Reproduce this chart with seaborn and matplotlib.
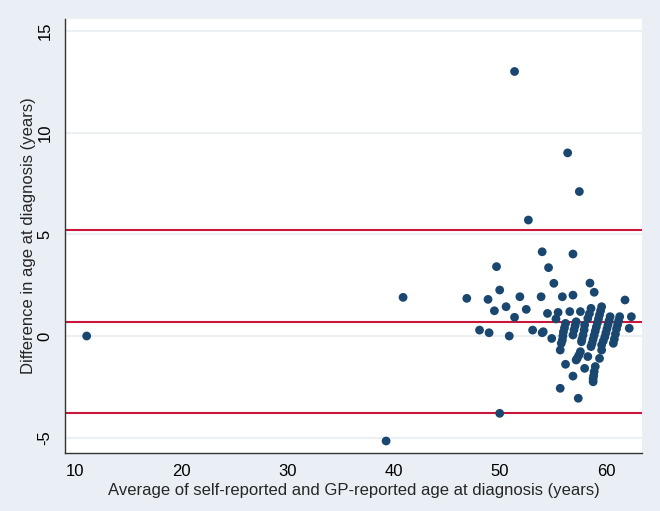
import matplotlib
matplotlib.use("Agg")
import matplotlib.pyplot as plt
import seaborn as sns
import pandas as pd

# average of the two reported ages (x) and their difference (y)
avg_age = [
    11.1, 39.3, 40.9, 51.4, 56.4, 57.5, 52.7, 50.0, 57.4,
    46.9, 49.7, 50.0, 48.9, 49.5, 50.6, 51.4, 51.9, 52.5, 48.1, 49.0, 50.9,
    53.1, 54.0, 54.9, 55.3, 54.0, 54.6, 55.1, 53.9, 54.5, 55.5, 55.9, 56.9,
    56.9, 56.6, 57.6, 58.9, 61.8, 62.4, 62.2, 54.1, 55.7, 56.2, 56.9, 55.7,
    58.3, 58.0, 59.6, 59.4, 58.5,
    59.6, 59.5, 59.4, 59.3, 59.2, 59.1, 59.0, 58.9, 58.8, 58.7, 58.6,
    60.4, 60.3, 60.2, 60.1, 60.0, 59.9, 59.75, 59.6,
    61.3, 61.2, 61.1, 61.0, 60.9, 60.8, 60.7,
    58.6, 58.45, 58.3,
    56.2, 56.1, 56.0, 55.95, 55.9, 55.8,
    57.2, 57.1, 57.0, 56.9,
    58.0, 57.95, 57.85, 57.75, 57.7,
    57.6, 57.45, 57.3, 57.2,
    59.0, 58.9, 58.85, 58.8, 58.8,
]
diff_age = [
    0.0, -5.16, 1.9, 13.0, 9.0, 7.1, 5.7, -3.8, -3.06,
    1.85, 3.41, 2.26, 1.8, 1.24, 1.44, 0.92, 1.93, 1.31, 0.29, 0.16, 0.0,
    0.29, 0.16, -0.12, 0.84, 4.14, 3.36, 2.59, 1.93, 1.11, 1.16, 1.93, 4.03,
    2.01, 1.2, 1.2, 2.15, 1.77, 0.95, 0.38, 0.21, -0.69, -1.39, -1.97, -2.57,
    -1.01, -1.59, -0.69, -1.1, 2.6,
    1.44, 1.24, 1.04, 0.84, 0.64, 0.44, 0.24, 0.04, -0.16, -0.36, -0.52,
    0.95, 0.75, 0.55, 0.35, 0.15, -0.05, -0.25, -0.44,
    0.95, 0.75, 0.55, 0.35, 0.1, -0.15, -0.36,
    1.36, 1.1, 0.87,
    0.62, 0.4, 0.2, 0.0, -0.2, -0.36,
    0.7, 0.5, 0.3, 0.05,
    0.54, 0.3, 0.05, -0.15, -0.28,
    -0.77, -0.95, -1.1, -1.18,
    -1.5, -1.75, -1.95, -2.1, -2.25,
]
# mean difference and limits of agreement
mean_diff = 0.71
upper_loa = 5.21
lower_loa = -3.79

x_ticks = [10, 20, 30, 40, 50, 60]
y_ticks = [-5, 0, 5, 10, 15]

df = pd.DataFrame({"avg": avg_age, "diff": diff_age})

sns.set_style("white")
plt.rcParams["font.family"] = ["Liberation Sans", "DejaVu Sans"]

bg = "#eaeff5"
fig = plt.figure(figsize=(6.6, 5.11), dpi=100, facecolor=bg)
ax = fig.add_axes([0.0985, 0.1135, 0.8742, 0.8493])
ax.set_facecolor("white")

for t in y_ticks:
    ax.axhline(t, color="#e8eef3", lw=1.2, zorder=0)

for v in [upper_loa, mean_diff, lower_loa]:
    ax.axhline(v, color="#c8173a", lw=1.5, zorder=1)

sns.scatterplot(data=df, x="avg", y="diff", ax=ax, color="#1a476f",
                s=40, edgecolor="none", zorder=3, legend=False)

ax.set_xlim(9.06, 63.4)
ax.set_ylim(-5.75, 15.58)
ax.set_xticks(x_ticks)
ax.set_yticks(y_ticks)
ax.set_yticklabels([str(t) for t in y_ticks], rotation=90, va="center")
ax.tick_params(axis="both", direction="out", length=5, width=1,
               color="#333333", labelsize=12, labelcolor="black")
ax.tick_params(axis="x", pad=3)
ax.tick_params(axis="y", pad=4)

for side in ["top", "right"]:
    ax.spines[side].set_visible(False)
for side in ["left", "bottom"]:
    ax.spines[side].set_color("#333333")
    ax.spines[side].set_linewidth(1)

ax.set_xlabel("Average of self-reported and GP-reported age at diagnosis (years)",
              fontsize=12, labelpad=3)
ax.set_ylabel("Difference in age at diagnosis (years)", fontsize=12, labelpad=1)

fig.savefig("out.png", dpi=100, facecolor=bg)
